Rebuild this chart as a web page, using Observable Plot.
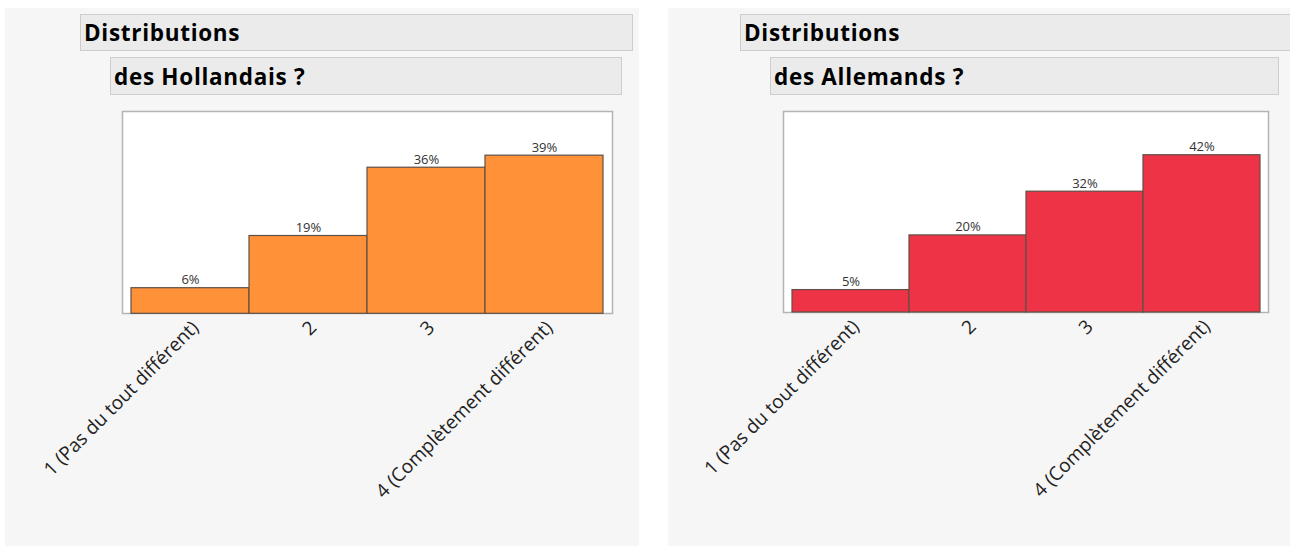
<!DOCTYPE html>
<html>
<head>
<meta charset="utf-8">
<script src="https://cdn.jsdelivr.net/npm/d3@7"></script>
<script src="https://cdn.jsdelivr.net/npm/@observablehq/plot@0.6"></script>
<style>
  html, body { margin: 0; padding: 0; background: #ffffff; }
  body { width: 1290px; height: 546px; position: relative; overflow: hidden; font-family: "Open Sans", "Noto Sans", sans-serif; }
  .panel { position: absolute; background: #f6f6f6; }
  .hdr { position: absolute; box-sizing: border-box; background: #ebebeb; border: 1.5px solid #cdcdcd;
         font-weight: bold; font-size: 22.5px; color: #000; display: flex; align-items: center; padding-left: 3px; letter-spacing: 0.7px; }
  .chart { position: absolute; }
</style>
</head>
<body>
<div class="panel" style="left:5px;top:8px;width:634px;height:538px"></div>
<div class="panel" style="left:668px;top:8px;width:622px;height:538px"></div>
<div class="hdr" style="left:80px;top:14px;width:553px;height:37px">Distributions</div>
<div class="hdr" style="left:110px;top:57px;width:512px;height:38px">des Hollandais ?</div>
<div class="hdr" style="left:740px;top:14px;width:552px;height:37px">Distributions</div>
<div class="hdr" style="left:770px;top:57px;width:509px;height:38px">des Allemands ?</div>
<div class="chart" id="c1" style="left:0px;top:100px"></div>
<div class="chart" id="c2" style="left:668px;top:100px"></div>
<script>
const categories = ["1 (Pas du tout différent)", "2", "3", "4 (Complètement différent)"];
const hollandais = [6, 19, 36, 39];
const allemands = [5, 20, 32, 42];
const colorHollandais = "#ff9138";
const colorAllemands = "#ee3346";

function makeChart(values, color, cfg) {
  const data = categories.map((c, i) => ({cat: c, v: values[i], label: values[i] + "%"}));
  return Plot.plot({
    width: cfg.width,
    height: cfg.height,
    marginLeft: cfg.ml,
    marginRight: cfg.mr,
    marginTop: cfg.mt,
    marginBottom: cfg.mb,
    style: {fontFamily: "'Open Sans', 'Noto Sans', sans-serif", fontSize: "15px", color: "#222", background: "transparent", overflow: "visible"},
    x: {type: "band", domain: categories, padding: 0, range: cfg.xRange, label: null},
    y: {domain: [0, cfg.yMax], range: cfg.yRange, axis: null},
    marks: [
      Plot.frame({fill: "#ffffff", stroke: "#b4b4b4", strokeWidth: 1.5}),
      Plot.barY(data, {x: "cat", y: "v", fill: color, stroke: "#5e5048", strokeWidth: 1.2, insetBottom: cfg.insetBottom}),
      Plot.text(data, {x: "cat", y: "v", text: "label", dy: -4, lineAnchor: "bottom", fontSize: 13, fill: "#333"}),
      Plot.axisX({tickRotate: -45, tickSize: 0, tickPadding: 11, dx: 5, fontSize: 19, fill: "#222", label: null})
    ]
  });
}

document.getElementById("c1").appendChild(makeChart(hollandais, colorHollandais, {
  width: 645, height: 446, ml: 122, mr: 33, mt: 11, mb: 233,
  xRange: [131, 603], yMax: 50, yRange: [211.8, 11], insetBottom: -1.5
}));
document.getElementById("c2").appendChild(makeChart(allemands, colorAllemands, {
  width: 622, height: 446, ml: 115, mr: 22, mt: 11, mb: 234,
  xRange: [123, 592.5], yMax: 54, yRange: [207.8, 11], insetBottom: -4.2
}));
</script>
</body>
</html>
